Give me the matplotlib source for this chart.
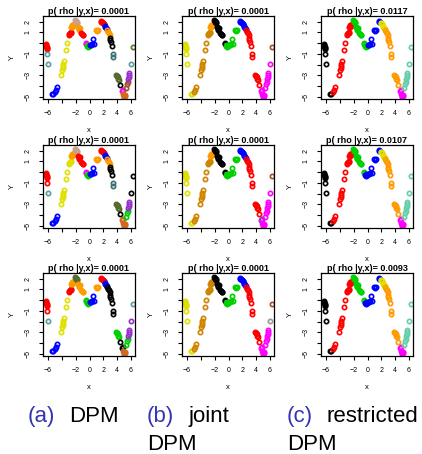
import matplotlib as mpl
import matplotlib.pyplot as plt

mpl.use("agg")

# points along the curve, grouped in segments (left to right)
seg_x = [
    [-6.3, -6.27, -6.25, -6.22, -6.2, -6.17],        # A
    [-6.12],                                          # B1
    [-6.02],                                          # B2
    [-5.5, -5.35],                                    # C
    [-5.05, -4.85, -4.65],                            # D
    [-4.15, -3.95, -3.9, -3.85, -3.8, -3.72],         # E
    [-3.35, -3.2],                                    # F
    [-3.0, -2.9, -2.85, -2.75, -2.7],                 # G
    [-2.65, -2.55, -2.5, -2.4, -2.35, -2.3],          # H
    [-2.05, -2.0, -1.9, -1.85, -1.8],                 # I
    [-1.65, -1.55, -1.5, -1.45, -1.4],                # J
    [-1.25, -1.15, -1.0, -0.9],                       # K
    [-0.55, -0.5],                                    # L
    [-0.3, -0.25, -0.15, -0.1],                       # M
    [0.05, 0.2, 0.3, 0.45, 0.6],                      # N
    [1.0, 1.1, 1.25],                                 # O
    [1.6, 1.7, 1.8],                                  # P1
    [1.9, 2.0, 2.05, 2.15],                           # P2
    [2.2, 2.3, 2.4, 2.5],                             # Q
    [2.6, 2.7, 2.8, 2.9],                             # R
    [2.95, 3.0, 3.1, 3.2],                            # S
    [3.35, 3.45],                                     # T
    [3.9, 3.95, 4.0, 4.05, 4.1, 4.2],                 # U
    [4.35],                                           # V
    [4.7, 4.8],                                       # W
    [4.9, 4.95, 5.0, 5.05, 5.15, 5.1],                # X
    [5.3, 5.45, 5.5],                                 # Y2
    [5.6, 5.65, 5.7, 5.75],                           # Y1
    [5.95],                                           # Z
    [6.3],                                            # AA
]
seg_y = [
    [-0.05, -0.15, -0.25, -0.35, -0.45, -0.55],
    [-1.0],
    [-1.9],
    [-4.75, -4.7],
    [-4.6, -4.4, -4.1],
    [-3.0, -2.55, -2.35, -2.1, -1.9, -1.65],
    [-0.65, 0.05],
    [0.75, 0.85, 0.95, 1.05, 0.9],
    [1.55, 1.65, 1.55, 1.7, 1.6, 1.75],
    [2.2, 2.05, 1.95, 1.85, 2.0],
    [1.5, 1.45, 1.35, 1.25, 1.4],
    [0.95, 0.85, 0.8, 0.75],
    [0.05, -0.05],
    [-0.3, -0.2, -0.35, -0.25],
    [-0.2, -0.15, -0.05, 0.35, -0.05],
    [1.2, 1.15, 1.2],
    [2.0, 2.1, 1.95],
    [1.85, 1.9, 1.75, 1.8],
    [1.6, 1.5, 1.45, 1.35],
    [1.2, 1.05, 0.95, 0.8],
    [0.45, 0.25, 0.1, -0.25],
    [-1.05, -1.25],
    [-2.95, -3.05, -3.1, -3.2, -3.3, -3.45],
    [-3.9],
    [-4.45, -4.4],
    [-4.75, -4.85, -4.95, -5.0, -4.95, -4.85],
    [-4.15, -3.85, -3.65],
    [-3.35, -3.15, -3.0, -2.8],
    [-1.9],
    [-0.35],
]

# cluster colour per segment, one code letter per segment; rows x (a, b, c)
clusters = [
    ["rttbbyyrowormgborrbokdvkmsnpte",
     "yyyyhhhhokkkkgggbbbrrrrrmmmmmn",
     "kkkkrrrrrgggggbbbyyooooommaaaa"],
    ["rrtbbyyyowrrmgborrbokdvkssgpkk",
     "yyyyhhhhokkkkgggbbbrrrrrpmmmmn",
     "kkkkrrrrrggggbbbbyyooooommaaaa"],
    ["rrtbbyyrovooggborrbkkkgkksgppt",
     "yyyyhhhhhkkkkgggbbbrrrrrmmmmxn",
     "kkkkrrrrrggggbbbbyyooooommaaaa"],
]
probs = [
    ["0.0001", "0.0001", "0.0117"],
    ["0.0001", "0.0001", "0.0107"],
    ["0.0001", "0.0001", "0.0093"],
]
captions = [("(a)", "DPM", None), ("(b)", "joint", "DPM"), ("(c)", "restricted", "DPM")]

palette = {
    "k": "black", "r": "#FF0000", "g": "#00D000", "b": "#0000FF",
    "o": "#FF9A00", "h": "#CD8500", "y": "#E0E000", "t": "#5F9EA0",
    "d": "#3D7070", "w": "#C8A08C", "v": "#556B2F", "e": "#4F7F1F",
    "s": "#D2691E", "n": "#A0522D", "m": "#FF00FF", "p": "#9932CC",
    "a": "#66CDAA", "x": "#999999",
}

W, H = 422, 454
col_left = [43, 182, 321]
box_w = 92
row_top = [16, 145, 273]
box_h = 83

plt.rcParams["font.family"] = "Liberation Sans"

fig = plt.figure(figsize=(W / 100, H / 100), dpi=100)

for i in range(3):
    for j in range(3):
        ax = fig.add_axes([col_left[j] / W, 1 - (row_top[i] + box_h) / H,
                           box_w / W, box_h / H])
        codes = clusters[i][j]
        for xs, ys, c in zip(seg_x, seg_y, codes):
            ax.plot(xs, ys, "o", ms=3.1, mew=1.2, mfc="none",
                    mec=palette[c], linestyle="none")
        ax.set_xlim(-6.73, 6.58)
        ax.set_ylim(-5.21, 2.53)
        ax.set_xticks([-6, -4, -2, 0, 2, 4, 6])
        ax.set_xticklabels(["\u22126", "", "\u22122", "0", "2", "4", "6"])
        ax.set_yticks([-5, -4, -3, -2, -1, 0, 1, 2])
        ax.set_yticklabels(["\u22125", "", "\u22123", "", "\u22121", "", "1", "2"],
                           rotation=90, va="center")
        ax.tick_params(length=3, width=0.8, labelsize=5, pad=5)
        ax.tick_params(axis="y", pad=5.5)
        for sp in ax.spines.values():
            sp.set_linewidth(0.9)
        ax.set_title("p( rho |y,x)= " + probs[i][j], fontsize=6.5,
                     fontweight="bold", pad=1.5)
        ax.set_xlabel("x", fontsize=5.5)
        ax.set_ylabel("Y", fontsize=5.5)
        ax.xaxis.set_label_coords(0.5, -0.34)
        ax.yaxis.set_label_coords(-0.3, 0.5)

# sub-figure captions
cap_x = [28, 147, 287]
word_x = [69, 189, 327]
for (tag, word, line2), x0, x1 in zip(captions, cap_x, word_x):
    fig.text(x0 / W, 1 - 422 / H, tag, color="#3333B3", fontsize=16,
             va="baseline", ha="left")
    fig.text(x1 / W, 1 - 422 / H, word, color="black", fontsize=16,
             va="baseline", ha="left")
    if line2:
        fig.text(x0 / W, 1 - 450 / H, line2, color="black", fontsize=16,
                 va="baseline", ha="left")

fig.savefig("out.png", dpi=100)
